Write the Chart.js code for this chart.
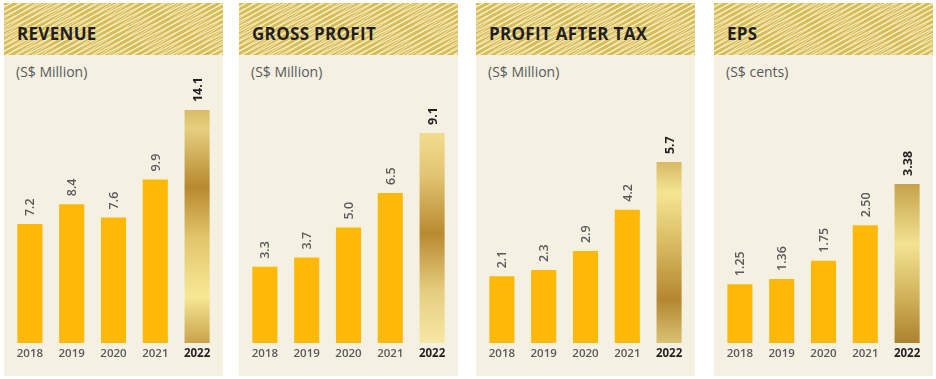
<!DOCTYPE html>
<html><head><meta charset="utf-8">
<script src="https://cdn.jsdelivr.net/npm/chart.js@4.4.1/dist/chart.umd.min.js"></script>
<style>
body{margin:0;width:936px;height:379px;background:#fff;position:relative;overflow:hidden;font-family:"Open Sans",sans-serif}
.panel{position:absolute;top:3px;width:219px;height:373px;background:#f4f0e2}
.head{position:absolute;left:0;top:0;width:100%;height:52px;
  background:
    repeating-linear-gradient(147deg,rgba(255,250,225,0) 0px,rgba(255,250,225,0) 3.1px,rgba(255,250,225,0.75) 3.8px,rgba(255,250,225,0) 4.6px),
    repeating-linear-gradient(153deg,#d8bc55 0px,#d8bc55 2.2px,#eadb9e 2.9px,#f7efcf 3.5px,#d8bc55 4.4px)}
.title{position:absolute;left:13px;top:21px;font-weight:700;font-size:17px;color:#231f20;line-height:20px;letter-spacing:0.3px;white-space:nowrap}
.sub{position:absolute;left:12px;top:59px;font-size:14px;font-weight:500;color:#58595b;line-height:20px;white-space:nowrap}
.cv{position:absolute;left:5px;top:75px;width:209px;height:290px}
</style></head>
<body>
<div id="root"></div>
<script>
// ---- data ----
const years = ['2018', '2019', '2020', '2021', '2022'];
const revenue = [7.2, 8.4, 7.6, 9.9, 14.1];
const grossProfit = [3.3, 3.7, 5.0, 6.5, 9.1];
const profitAfterTax = [2.1, 2.3, 2.9, 4.2, 5.7];
const eps = [1.25, 1.36, 1.75, 2.50, 3.38];
const titles = ['REVENUE', 'GROSS PROFIT', 'PROFIT AFTER TAX', 'EPS'];
const units = ['(S$ Million)', '(S$ Million)', '(S$ Million)', '(S$ cents)'];
const decimals = [1, 1, 1, 2];
const yMax = [16.04, 11.48, 8.35, 5.63];

// ---- styling ----
const panelLeft = [4, 239, 476, 714];
const barColor = '#feb908';
const goldStops = [
  [[0, '#d9bc66'], [0.08, '#e6cf80'], [0.33, '#b8892e'], [0.55, '#e3c56c'], [0.8, '#f7e895'], [1, '#caa24a']],
  [[0, '#f1dd8e'], [0.2, '#e2c572'], [0.48, '#b98a30'], [0.75, '#e5cd7e'], [1, '#f6e8a6']],
  [[0, '#d7ba66'], [0.17, '#f5e592'], [0.45, '#d9bb62'], [0.76, '#b4872f'], [1, '#dac274']],
  [[0, '#c6a24a'], [0.38, '#f3e392'], [0.7, '#d2b35c'], [1, '#ad822e']]
];
const seriesList = [revenue, grossProfit, profitAfterTax, eps];

function goldFill(stops) {
  return ctx => {
    const chart = ctx.chart;
    if (!chart.chartArea || !chart.scales.y) return stops[0][1];
    const y = chart.scales.y;
    const top = y.getPixelForValue(ctx.raw), bottom = y.getPixelForValue(0);
    const g = chart.ctx.createLinearGradient(0, top, 0, bottom);
    stops.forEach(([o, c]) => g.addColorStop(o, c));
    return g;
  };
}

const valueLabels = {
  id: 'valueLabels',
  afterDatasetsDraw(chart, args, opts) {
    const ctx = chart.ctx;
    const meta = chart.getDatasetMeta(0);
    const data = chart.data.datasets[0].data;
    const last = data.length - 1;
    meta.data.forEach((bar, i) => {
      ctx.save();
      ctx.translate(bar.x + 1, bar.y - 8);
      ctx.rotate(-Math.PI / 2);
      ctx.font = (i === last ? '700 ' : '600 ') + '12.5px "Open Sans"';
      ctx.fillStyle = i === last ? '#231f20' : '#58595b';
      ctx.textAlign = 'left';
      ctx.textBaseline = 'middle';
      ctx.fillText(data[i].toFixed(opts.decimals), 0, 0);
      ctx.restore();
    });
  }
};

const root = document.getElementById('root');
seriesList.forEach((series, p) => {
  const panel = document.createElement('div');
  panel.className = 'panel';
  panel.style.left = panelLeft[p] + 'px';
  panel.innerHTML = '<div class="head"></div><div class="title">' + titles[p] +
    '</div><div class="sub">' + units[p] + '</div>';
  const cv = document.createElement('canvas');
  cv.className = 'cv';
  cv.width = 209; cv.height = 290;
  panel.appendChild(cv);
  root.appendChild(panel);

  new Chart(cv, {
    type: 'bar',
    data: {
      labels: years,
      datasets: [{
        data: series,
        backgroundColor: ctx => ctx.dataIndex === series.length - 1 ? goldFill(goldStops[p])(ctx) : barColor,
        borderWidth: 0,
        barPercentage: 0.6,
        categoryPercentage: 1
      }]
    },
    options: {
      responsive: false,
      animation: false,
      devicePixelRatio: 1,
      layout: { padding: 0 },
      plugins: {
        legend: { display: false },
        tooltip: { enabled: false },
        valueLabels: { decimals: decimals[p] }
      },
      scales: {
        x: {
          grid: { display: false, drawTicks: false },
          border: { display: false },
          afterFit: s => { s.height = 25; },
          ticks: {
            padding: 4,
            color: c => c.index === years.length - 1 ? '#231f20' : '#58595b',
            font: c => ({ family: '"Open Sans"', size: 11.5, weight: c.index === years.length - 1 ? '700' : '600' })
          }
        },
        y: { display: false, min: 0, max: yMax[p] }
      }
    },
    plugins: [valueLabels]
  });
});
</script>
</body></html>
